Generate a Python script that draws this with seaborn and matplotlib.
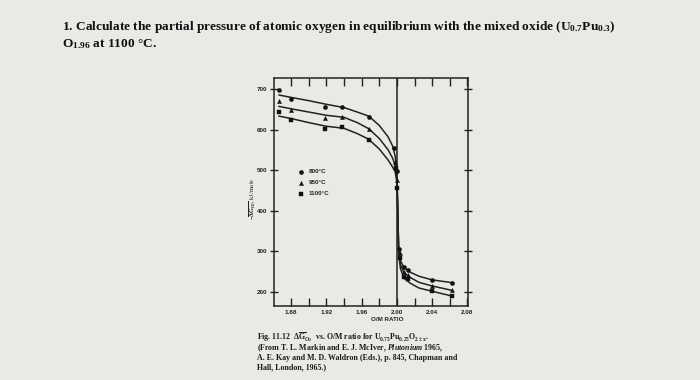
import matplotlib
matplotlib.use("Agg")
import matplotlib.pyplot as plt
import seaborn as sns

# ---- data ----
temps = ["800°C", "950°C", "1100°C"]
markers = ["o", "^", "s"]

curve_x = [1.866, 1.88, 1.90, 1.92, 1.94, 1.955, 1.968, 1.98, 1.99, 1.995,
           1.998, 2.000, 2.001, 2.002, 2.004, 2.008, 2.015, 2.025, 2.04, 2.063]
curve_800 = [685, 679, 671, 662, 654, 643, 633, 610, 582, 560,
             535, 495, 400, 305, 278, 260, 249, 239, 230, 223]
curve_950 = [657, 651, 643, 635, 630, 617, 602, 578, 550, 530,
             512, 485, 400, 300, 268, 248, 236, 224, 215, 204]
curve_1100 = [633, 627, 617, 608, 603, 590, 576, 552, 525, 508,
              496, 470, 400, 295, 258, 234, 222, 210, 202, 190]

pts_x_800 = [1.866, 1.880, 1.9185, 1.938, 1.968, 1.997, 2.000, 2.002, 2.008, 2.013, 2.040, 2.063]
pts_y_800 = [698, 675, 655, 656, 631, 555, 498, 305, 262, 254, 229, 223]
pts_x_950 = [1.866, 1.880, 1.9185, 1.938, 1.968, 1.998, 2.000, 2.003, 2.008, 2.013, 2.040, 2.063]
pts_y_950 = [671, 648, 628, 632, 601, 521, 475, 295, 250, 243, 215, 204]
pts_x_1100 = [1.866, 1.880, 1.9185, 1.938, 1.968, 1.999, 2.000, 2.004, 2.008, 2.013, 2.040, 2.063]
pts_y_1100 = [644, 624, 602, 606, 575, 506, 455, 285, 236, 232, 202, 190]

x_ticks = [1.88, 1.92, 1.96, 2.00, 2.04, 2.08]
x_tick_labels = ["1.88", "1.92", "1.96", "2.00", "2.04", "2.08"]
y_ticks = [200, 300, 400, 500, 600, 700]

title_lines = ["1. Calculate the partial pressure of atomic oxygen in equilibrium with the mixed oxide (U$_{0.7}$Pu$_{0.3}$)",
               "O$_{1.96}$ at 1100 °C."]
caption_lines = [r"Fig. 11.12  $\Delta\overline{G}_{O_2}$  vs. O/M ratio for U$_{0.75}$Pu$_{0.25}$O$_{2\pm x}$.",
                 "(From T. L. Markin and E. J. McIver, $\\it{Plutonium\\ 1965}$,",
                 "A. E. Kay and M. D. Waldron (Eds.), p. 845, Chapman and",
                 "Hall, London, 1965.)"]

# ---- drawing ----
sns.set_theme(style="white")
plt.rcParams["font.family"] = ["Liberation Serif", "DejaVu Sans"]
plt.rcParams["mathtext.fontset"] = "custom"
plt.rcParams["mathtext.rm"] = "Liberation Serif:bold"
plt.rcParams["mathtext.it"] = "Liberation Serif:italic:bold"
plt.rcParams["mathtext.bf"] = "Liberation Serif:bold"
plt.rcParams["mathtext.default"] = "rm"

bg = "#e9e9e6"
ink = "#222222"
fig = plt.figure(figsize=(7, 3.8), dpi=100, facecolor=bg)
ax = fig.add_axes([0.392, 0.195, 0.277, 0.600])
ax.set_facecolor(bg)

curves = [curve_800, curve_950, curve_1100]
pts = [(pts_x_800, pts_y_800), (pts_x_950, pts_y_950), (pts_x_1100, pts_y_1100)]
for cy in curves:
    sns.lineplot(x=curve_x, y=cy, sort=False, color=ink, lw=1.1, ax=ax, legend=False)
for t, m, (px, py) in zip(temps, markers, pts):
    sns.scatterplot(x=px, y=py, marker=m, s=9, color="#111111", edgecolor="#111111",
                    linewidth=0.3, ax=ax, label=t, zorder=5)

ax.axvline(2.00, color=ink, lw=1.1)
ax.set_xlim(1.861, 2.081)
ax.set_ylim(166, 727)

ax.set_xticks(x_ticks)
ax.set_xticklabels(x_tick_labels)
ax.set_xticks([1.88 + 0.02 * i for i in range(11)], minor=True)
ax.set_yticks(y_ticks)
ax.set_yticklabels([str(v) for v in y_ticks])
ax.tick_params(axis="x", which="both", direction="in", top=True, bottom=True,
               length=6, width=1, color=ink, labelsize=4.5, labelcolor=ink, pad=3)
ax.tick_params(axis="y", which="both", direction="inout", left=True, right=True,
               length=6, width=1, color=ink, labelsize=4.5, labelcolor=ink, pad=2)
for lab in ax.get_xticklabels() + ax.get_yticklabels():
    lab.set_fontweight("bold")
    lab.set_family("Liberation Sans")
for sp in ax.spines.values():
    sp.set_color(ink)
    sp.set_linewidth(1.1)

ax.set_xlabel("O/M RATIO", fontsize=4.5, fontweight="bold", color=ink, family="Liberation Sans")
ax.xaxis.set_label_coords(0.58, -0.05)
ax.set_ylabel(r"$-\overline{\Delta G_{O_2}}$, kJ/mole", fontsize=4.5, color=ink)
ax.yaxis.set_label_coords(-0.085, 0.47)

leg = ax.legend(loc="upper left", bbox_to_anchor=(0.08, 0.62), frameon=False,
                fontsize=4.5, handletextpad=0.3, labelspacing=0.9,
                markerscale=1.0, borderpad=0.2)
for txt in leg.get_texts():
    txt.set_color(ink)
    txt.set_family("Liberation Sans")
    txt.set_fontweight("bold")

fig.text(0.089, 0.93, title_lines[0], fontsize=9.6, fontweight="bold", color="#111111",
         va="center", ha="left")
fig.text(0.089, 0.883, title_lines[1], fontsize=9.6, fontweight="bold", color="#111111",
         va="center", ha="left")

cap_y = [0.113, 0.083, 0.059, 0.035]
for ln, yy in zip(caption_lines, cap_y):
    fig.text(0.367, yy, ln, fontsize=5.7, fontweight="bold", color="#1b1b1b",
             va="center", ha="left")

fig.savefig("out.png", dpi=100, facecolor=bg)
